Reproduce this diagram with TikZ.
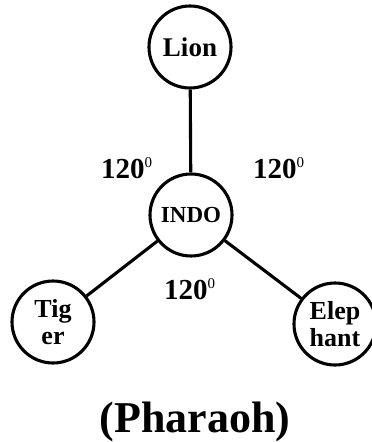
\documentclass[tikz,border=0pt]{standalone}
\usepackage{fontspec}
\setmainfont{Liberation Serif}
\newcommand{\degsup}{\raisebox{11pt}{\mdseries\fontsize{15}{15}\selectfont 0}}
\begin{document}
\begin{tikzpicture}[x=1pt,y=-1pt,
  animal/.style={circle,draw=black,line width=3.1pt,minimum size=82pt,inner sep=0pt,
    align=center,font=\bfseries\fontsize{26}{27}\selectfont},
  link/.style={line width=3.1pt,black},
  angle/.style={anchor=base west,inner sep=0pt,font=\bfseries\fontsize{29}{29}\selectfont},
]
\useasboundingbox (0,0) rectangle (372,442);
\begin{scope}
\clip (0,0) rectangle (372,442);
\node[animal,font=\bfseries\fontsize{27}{27}\selectfont] (lion) at (190,47) {Lion};
\node[animal,font=\bfseries\fontsize{23}{23}\selectfont] (indo) at (191,215) {INDO};
\node[animal] (tiger) at (53,322) {Tig\\er};
\node[animal] (eleph) at (335,324) {Elep\\hant};
\draw[link] (lion) -- (indo);
\draw[link] (indo) -- (tiger);
\draw[link] (indo) -- (eleph);
\end{scope}
\node[angle] (a1) at (101,178) {120\degsup};
\node[angle] (a2) at (253,178) {120\degsup};
\node[angle] (a3) at (164,299) {120\degsup};
\node[anchor=base,inner sep=0pt,font=\bfseries\fontsize{44}{44}\selectfont] (title) at (195,432) {(Pharaoh)};
\end{tikzpicture}
\end{document}
